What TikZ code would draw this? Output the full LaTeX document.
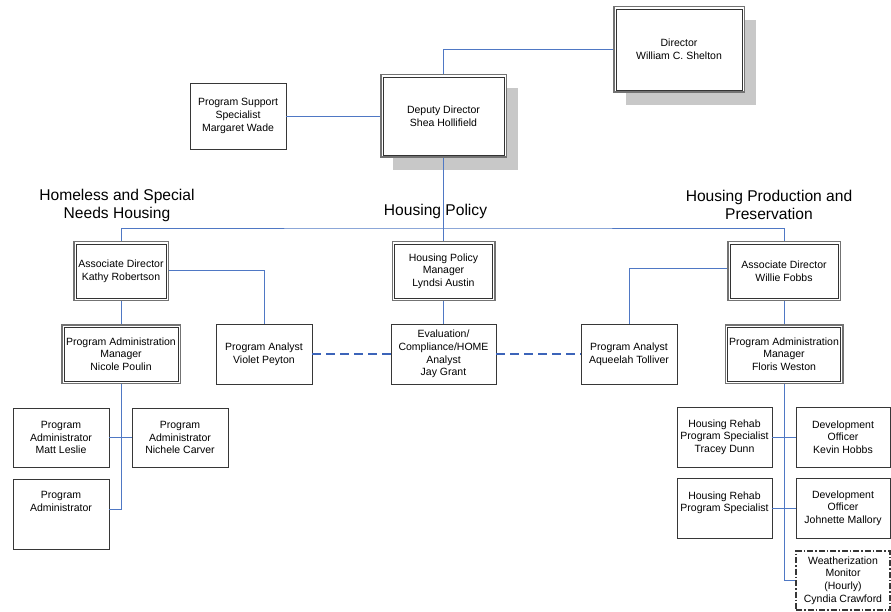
\documentclass[tikz,border=0pt]{standalone}
\usepackage{fontspec}
\setmainfont{Liberation Sans}
\usetikzlibrary{shadows}
\definecolor{conn}{RGB}{79,120,196}
\definecolor{dconn}{RGB}{60,100,185}
\definecolor{shade}{RGB}{200,200,200}
\definecolor{bordc}{RGB}{55,55,55}
\tikzset{
  box/.style={draw=bordc, line width=0.9pt, fill=white, align=center, inner sep=1pt,
    font=\fontsize{10.5}{12.7}\selectfont, text=black},
  dbox/.style={box, draw=black!55, line width=1.5pt},
  innerline/.style={draw=black!80, line width=0.8pt},
  shbox/.style={dbox, drop shadow={fill=shade, opacity=1, shadow xshift=12pt, shadow yshift=-13pt}},
  wbox/.style={box, line width=1.1pt, dash pattern=on 6pt off 2pt on 1.5pt off 2pt},
  link/.style={draw=conn, line width=0.9pt},
  dlink/.style={draw=dconn, line width=1.3pt, dash pattern=on 9pt off 5pt},
  head/.style={align=center, font=\fontsize{15.6}{18}\selectfont, text=black, inner sep=0pt}
}
\begin{document}
\begin{tikzpicture}[x=1pt,y=-1pt]
\useasboundingbox[fill=white] (0,0) rectangle (891,612);

% top
\node[shbox, minimum width=130.5pt, minimum height=85.5pt] (dir) at (679,49.5) {Director\\William C. Shelton};
\node[shbox, minimum width=125.5pt, minimum height=82.5pt] (dep) at (443.5,116) {Deputy Director\\Shea Hollifield};
\node[box, minimum width=96pt, minimum height=66pt] (pss) at (238,116) {Program Support\\Specialist\\Margaret Wade};

% headers
\node[head] (hHome) at (117,205) {Homeless and Special\\Needs Housing};
\node[head] (hPol) at (435.5,211) {Housing Policy};
\node[head] (hProd) at (769,205) {Housing Production and\\Preservation};

% second level
\node[dbox, minimum width=94.5pt, minimum height=58.5pt] (kathy) at (121,271) {Associate Director\\Kathy Robertson};
\node[dbox, minimum width=102.5pt, minimum height=58.5pt] (hpm) at (443.5,271) {Housing Policy\\Manager\\Lyndsi Austin};
\node[dbox, minimum width=112.5pt, minimum height=58.5pt] (willie) at (784,271) {Associate Director\\Willie Fobbs};

% third level
\node[dbox, minimum width=118.5pt, minimum height=58.5pt] (nicole) at (121,354) {Program Administration\\Manager\\Nicole Poulin};
\node[box, minimum width=96pt, minimum height=60pt] (violet) at (264,354) {Program Analyst\\Violet Peyton};
\node[box, minimum width=105pt, minimum height=60pt] (eval) at (443.5,354) {Evaluation/\\Compliance/HOME\\Analyst\\Jay Grant};
\node[box, minimum width=96pt, minimum height=60pt] (aqu) at (629,354) {Program Analyst\\Aqueelah Tolliver};
\node[dbox, minimum width=117.5pt, minimum height=58.5pt] (floris) at (784,354) {Program Administration\\Manager\\Floris Weston};

% inner lines of the double borders
\foreach \n in {dir,dep,kathy,hpm,willie,nicole,floris}
  \draw[innerline] ([shift={(3pt,3pt)}]\n.south west) rectangle ([shift={(-3pt,-3pt)}]\n.north east);

% lower left
\node[box, minimum width=96pt, minimum height=59pt] (matt) at (61,437.5) {Program\\Administrator\\Matt Leslie};
\node[box, minimum width=96pt, minimum height=59pt] (nichele) at (180,437.5) {Program\\Administrator\\Nichele Carver};
\node[box, minimum width=96pt, minimum height=70pt] (pa3) at (61,514) {Program\\Administrator\\~\\~};

% lower right
\node[box, minimum width=95pt, minimum height=60pt] (tracey) at (724.5,437) {Housing Rehab\\Program Specialist\\Tracey Dunn};
\node[box, minimum width=94pt, minimum height=60pt] (kevin) at (843,437) {Development\\Officer\\Kevin Hobbs};
\node[box, minimum width=95pt, minimum height=60pt] (rehab2) at (724.5,508) {Housing Rehab\\Program Specialist\\~};
\node[box, minimum width=94pt, minimum height=60pt] (johnette) at (843,508) {Development\\Officer\\Johnette Mallory};
\node[wbox, minimum width=94pt, minimum height=59pt] (weather) at (843,580.5) {Weatherization\\Monitor\\(Hourly)\\Cyndia Crawford};

% connectors
\coordinate (bus) at (443.5,228);
\draw[link] (dep.north) |- (dir.west);
\draw[link] (pss.east) -- (dep.west);
\draw[link] (dep.south) -- (bus);
\draw[link] (kathy.north) |- (bus) -| (willie.north);
\draw[link] (bus) -- (hpm.north);
\draw[link] ([yshift=1pt]kathy.east) -| (violet.north);
\draw[link] (kathy.south) -- (nicole.north);
\draw[link] (nicole.south) |- ([yshift=5pt]pa3.east);
\draw[link] (matt.east) -- (nichele.west);
\draw[link] (hpm.south) -- (eval.north);
\draw[dlink] (violet.east) -- (eval.west);
\draw[dlink] (eval.east) -- (aqu.west);
\draw[link] ([yshift=3pt]willie.west) -| (aqu.north);
\draw[link] (willie.south) -- (floris.north);
\draw[link] (floris.south) |- (weather.west);
\draw[link] (tracey.east) -- (kevin.west);
\draw[link] (rehab2.east) -- (johnette.west);
\end{tikzpicture}
\end{document}
